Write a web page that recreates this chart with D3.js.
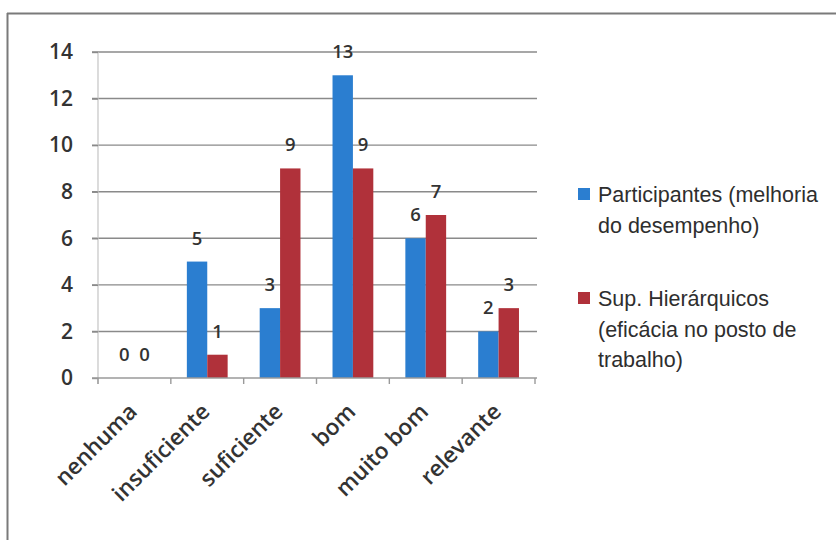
<!DOCTYPE html>
<html>
<head>
<meta charset="utf-8">
<script src="https://cdn.jsdelivr.net/npm/d3@7"></script>
<style>
  html, body { margin: 0; padding: 0; background: #fff; }
  svg { display: block; }
</style>
</head>
<body>
<svg id="chart" width="836" height="540"></svg>
<script>
// Avaliação da formação: participantes vs. superiores hierárquicos
const categories = ["nenhuma", "insuficiente", "suficiente", "bom", "muito bom", "relevante"];
const participantes = [0, 5, 3, 13, 6, 2];
const superiores = [0, 1, 9, 9, 7, 3];
const seriesNames = [
  ["Participantes (melhoria", "do desempenho)"],
  ["Sup. Hierárquicos", "(eficácia no posto de", "trabalho)"]
];
const seriesColors = ["#2b7ed0", "#b0313a"];
const yTicks = [0, 2, 4, 6, 8, 10, 12, 14];

const series = [participantes, superiores];
const svg = d3.select("#chart");
const labelFont = "'Open Sans', Lato, sans-serif";

// outer frame (top and left edges)
svg.append("line").attr("x1", 7).attr("x2", 836).attr("y1", 13.5).attr("y2", 13.5)
  .attr("stroke", "#7a7a7a").attr("stroke-width", 2);
svg.append("line").attr("x1", 7.5).attr("x2", 7.5).attr("y1", 13).attr("y2", 540)
  .attr("stroke", "#7a7a7a").attr("stroke-width", 2);

const plot = { left: 98, right: 535, top: 52, bottom: 378 };

const x0 = d3.scaleBand().domain(categories).range([plot.left, plot.right]).padding(0);
const bw = x0.bandwidth();
const x1 = d3.scaleBand().domain([0, 1]).range([bw * 0.22, bw * 0.78]).padding(0);
const y = d3.scaleLinear().domain([0, 14]).range([plot.bottom, plot.top]);

// horizontal gridlines
svg.append("g").selectAll("line").data(yTicks.filter(t => t > 0)).join("line")
  .attr("x1", 92).attr("x2", 537)
  .attr("y1", d => y(d)).attr("y2", d => y(d))
  .attr("stroke", "#8a8a8a").attr("stroke-width", 1.4);

// y axis
const yAxis = d3.axisLeft(y).tickValues(yTicks).tickSize(6).tickPadding(19);
const gy = svg.append("g").attr("transform", `translate(${plot.left},0)`).call(yAxis);
gy.select(".domain").attr("stroke", "#c4c4c4").attr("stroke-width", 1.2)
  .attr("d", `M0,${plot.top}V${plot.bottom + 6}`);
gy.selectAll(".tick line").attr("stroke", "#8a8a8a").attr("stroke-width", 1.4);
gy.selectAll(".tick text")
  .attr("font-family", labelFont).attr("font-weight", 600)
  .attr("font-size", 21).attr("fill", "#333");

// bars
const groups = svg.append("g").selectAll("g").data(categories).join("g")
  .attr("transform", d => `translate(${x0(d)},0)`);

groups.selectAll("rect")
  .data((c, i) => series.map((s, k) => ({ k, v: s[i] })))
  .join("rect")
  .attr("x", d => x1(d.k))
  .attr("width", x1.bandwidth())
  .attr("y", d => y(d.v))
  .attr("height", d => y(0) - y(d.v))
  .attr("fill", d => seriesColors[d.k]);

// x axis
const xAxis = d3.axisBottom(x0).tickSize(0).tickFormat("");
const gx = svg.append("g").attr("transform", `translate(0,${plot.bottom})`).call(xAxis);
gx.select(".domain").attr("stroke", "#9a9a9a").attr("stroke-width", 1.4)
  .attr("d", `M92,0H${plot.right + 2}`);
svg.append("g").selectAll("line")
  .data(d3.range(categories.length + 1))
  .join("line")
  .attr("x1", i => plot.left + i * bw).attr("x2", i => plot.left + i * bw)
  .attr("y1", plot.bottom).attr("y2", plot.bottom + 6)
  .attr("stroke", "#9a9a9a").attr("stroke-width", 1.4);

// rotated category labels
svg.append("g").selectAll("text").data(categories).join("text")
  .attr("transform", d => `translate(${x0(d) + bw / 2 + 4},${plot.bottom + 35}) rotate(-45)`)
  .attr("text-anchor", "end")
  .attr("font-family", labelFont).attr("font-weight", 600)
  .attr("font-size", 22.5).attr("fill", "#333")
  .text(d => d);

// value labels
groups.selectAll("text.val")
  .data((c, i) => series.map((s, k) => ({ k, v: s[i] })))
  .join("text")
  .attr("class", "val")
  .attr("x", d => x1(d.k) + x1.bandwidth() / 2)
  .attr("y", d => y(d.v) - 17)
  .attr("text-anchor", "middle")
  .attr("font-family", labelFont).attr("font-weight", 600)
  .attr("font-size", 18.5).attr("fill", "#333")
  .text(d => d.v);

// legend
const legendY = [188, 292];
const legend = svg.append("g").selectAll("g").data(seriesNames).join("g")
  .attr("transform", (d, i) => `translate(578,${legendY[i]})`);
legend.append("rect").attr("width", 12).attr("height", 12)
  .attr("fill", (d, i) => seriesColors[i]);
legend.each(function (lines) {
  const t = d3.select(this).append("text")
    .attr("font-family", "'Liberation Sans', Arial, sans-serif")
    .attr("font-size", 21.5).attr("fill", "#2e2e2e");
  t.selectAll("tspan").data(lines).join("tspan")
    .attr("x", 20).attr("y", (d, j) => 14 + j * 30.5)
    .text(d => d);
});
</script>
</body>
</html>
